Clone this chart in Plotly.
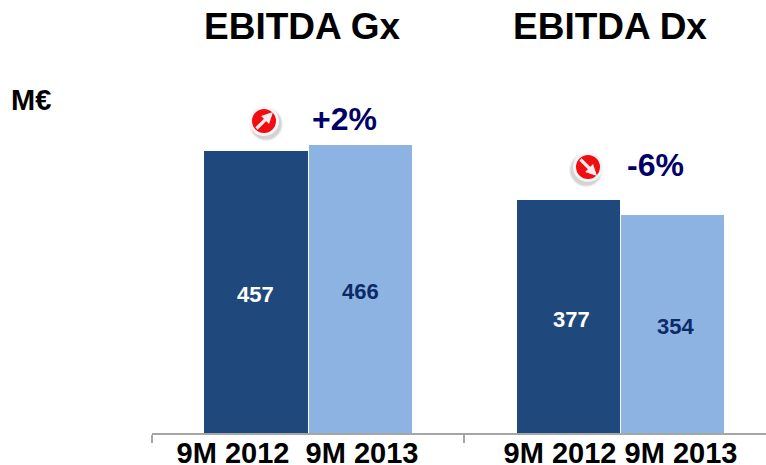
import plotly.graph_objects as go

PERIODS = ["9M 2012", "9M 2013", "9M 2012", "9M 2013"]
VALUES = [457, 466, 377, 354]
BAR_COLORS = ["#1F497D", "#8DB3E2", "#1F497D", "#8DB3E2"]
LABEL_COLORS = ["#FFFFFF", "#0B2A66", "#FFFFFF", "#0B2A66"]
GROUP_TITLES = ["EBITDA Gx", "EBITDA Dx"]
CHANGES = ["+2%", "-6%"]
UNIT = "M€"

W, H = 766, 465
BASE = 433
PX_PER_VALUE = 282 / 457
BAR_PX = 104.2
X0_PX = 256  # pixel centre of x = 0
xp = lambda px: (px - X0_PX) / BAR_PX
yp = lambda py: (BASE - py) / PX_PER_VALUE
FONT = "Liberation Sans, Arial, sans-serif"

bar_x = [0, 1, 3, 4]
tick_px = [233, 362, 560, 681]

fig = go.Figure()
fig.add_bar(x=bar_x, y=VALUES, width=0.992, marker=dict(color=BAR_COLORS, line=dict(width=0)),
            hoverinfo="x+y", showlegend=False)

# round red icons
icon_px = [(264, 121), (588, 167)]
shadow_off = [(2, 3), (-2, 3)]
for size, alpha in [(34, 0.10), (31, 0.18)]:
    fig.add_scatter(x=[xp(a + o[0]) for (a, b), o in zip(icon_px, shadow_off)],
                    y=[yp(b + o[1]) for (a, b), o in zip(icon_px, shadow_off)], mode="markers",
                    marker=dict(size=size, color=f"rgba(90,90,90,{alpha})", line=dict(width=0)),
                    hoverinfo="skip", showlegend=False)
fig.add_scatter(x=[xp(a) for a, b in icon_px], y=[yp(b) for a, b in icon_px], mode="markers",
                marker=dict(size=27, color="#F20D12", line=dict(color="#F6F6F6", width=3)),
                hoverinfo="skip", showlegend=False)

anns = []
def text(t, px, py, size, color, bold=True):
    anns.append(dict(text=f"<b>{t}</b>" if bold else t, x=px / W, y=(BASE - py) / BASE, xref="paper", yref="paper",
                     xanchor="center", yanchor="middle", showarrow=False,
                     font=dict(family=FONT, size=size, color=color)))

text(GROUP_TITLES[0], 302, 26, 37, "#000000")
text(GROUP_TITLES[1], 610, 26, 37, "#000000")
text(UNIT, 31, 100, 29, "#000000")
text(CHANGES[0], 344, 119, 32, "#000066")
text(CHANGES[1], 655, 165, 32, "#000066")

for v, c, px, py in zip(VALUES, LABEL_COLORS, [255, 360, 571, 675], [294, 291, 319, 326]):
    text(str(v), px, py, 22, c)

# white arrows inside the icons
for (cx, cy), (dx, dy) in zip(icon_px, [(1, -1), (1, 1)]):
    anns.append(dict(x=xp(cx + 9 * dx), y=yp(cy + 9 * dy), xref="x", yref="y", text="",
                     showarrow=True, ax=-18 * dx, ay=-18 * dy, axref="pixel", ayref="pixel",
                     arrowcolor="#FFECEC", arrowwidth=3.2, arrowhead=2, arrowsize=0.7, standoff=0))

fig.update_layout(
    width=W, height=H, margin=dict(l=0, r=0, t=0, b=H - BASE, autoexpand=False), autosize=False,
    paper_bgcolor="white", plot_bgcolor="white", bargap=0, showlegend=False,
    annotations=anns,
    xaxis=dict(domain=[152 / W, 1], range=[xp(152), xp(W)], showgrid=False, zeroline=False, automargin=False,
               showline=True, linecolor="#A6A6A6", linewidth=2,
               tickmode="array", tickvals=[xp(p) for p in tick_px], ticktext=[f"<b>{p}</b>" for p in PERIODS],
               ticks="", ticklabelstandoff=-7,
               tickfont=dict(family=FONT, size=29, color="#000000"),
               minor=dict(tickmode="array", tickvals=[xp(152), xp(464)], ticks="outside", ticklen=8,
                          tickcolor="#A6A6A6", tickwidth=2, showgrid=False)),
    yaxis=dict(range=[0, yp(0)], visible=False, showgrid=False, automargin=False),
)
fig.write_html("out.html", config=dict(displayModeBar=False),
               post_script="document.body.style.margin='0';document.documentElement.style.overflow='hidden';")
